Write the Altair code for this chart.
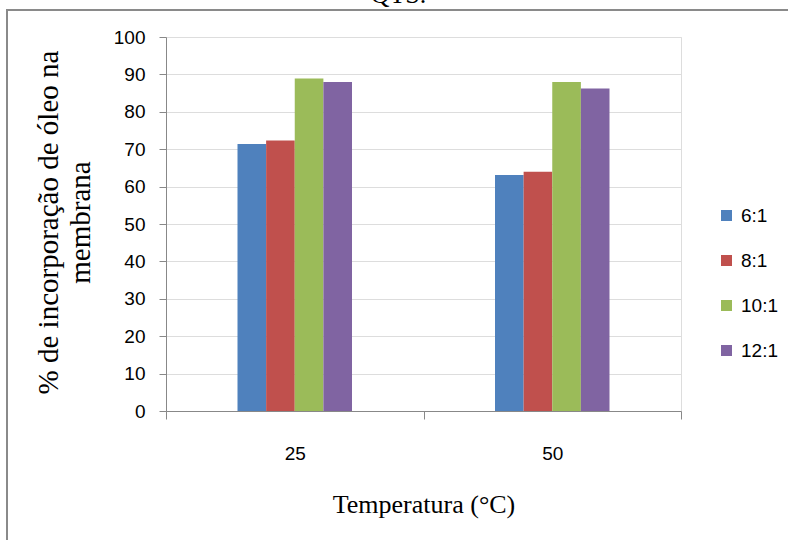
import altair as alt
import pandas as pd

temperaturas = ["25", "50"]
proporcoes = ["6:1", "8:1", "10:1", "12:1"]
v_6_1 = [71.4, 63.1]
v_8_1 = [72.3, 64.0]
v_10_1 = [88.9, 88.0]
v_12_1 = [88.0, 86.2]
cores = ["#4F81BD", "#C0504D", "#9BBB59", "#8064A2"]
y_ticks = [0, 10, 20, 30, 40, 50, 60, 70, 80, 90, 100]

rows = []
for prop, vals in zip(proporcoes, [v_6_1, v_8_1, v_10_1, v_12_1]):
    for t, v in zip(temperaturas, vals):
        rows.append({"Temperatura": t, "Proporcao": prop, "Valor": v})
df = pd.DataFrame(rows)

W, H = 515, 374
PL, PT = 166, 37
TOTAL_W, TOTAL_H = 790, 540
one = pd.DataFrame({"a": [0]})

frame_left = alt.Chart(one).mark_rule(color="#8a8a8a", strokeWidth=2).encode(
    x=alt.value(7 - PL), y=alt.value(9 - PT), y2=alt.value(TOTAL_H - PT),
)
frame_top = alt.Chart(one).mark_rule(color="#8a8a8a", strokeWidth=2).encode(
    x=alt.value(6 - PL), x2=alt.value(TOTAL_W - PL - 2), y=alt.value(10 - PT),
)

bars = alt.Chart(df).mark_bar().encode(
    x=alt.X(
        "Temperatura:N", sort=temperaturas,
        scale=alt.Scale(paddingInner=0, paddingOuter=0),
        axis=alt.Axis(
            title="Temperatura (°C)", labelAngle=0, tickBand="extent",
            tickSize=8, labelPadding=25, labelFont="Liberation Sans",
            labelFontSize=19, titleFont="Liberation Serif", titleFontSize=26,
            titleFontWeight="normal", titleBaseline="alphabetic",
            titleY=101, grid=False,
        ),
    ),
    xOffset=alt.XOffset(
        "Proporcao:N", sort=proporcoes,
        scale=alt.Scale(paddingInner=0, paddingOuter=0, range=[71.5, 186]),
    ),
    y=alt.Y(
        "Valor:Q",
        scale=alt.Scale(domain=[0, 100], nice=False),
        axis=alt.Axis(
            values=y_ticks,
            title=["% de incorporação de óleo na", "membrana"],
            titleFont="Liberation Serif", titleFontSize=29, titleFontWeight="normal",
            titleAngle=270, titleBaseline="alphabetic", titleAlign="center",
            titleLineHeight=32, titleX=57 - PL, titleY=222 - PT,
            tickSize=7, labelPadding=14, labelFont="Liberation Sans",
            labelFontSize=19, grid=True,
        ),
    ),
    color=alt.Color(
        "Proporcao:N", sort=proporcoes,
        scale=alt.Scale(domain=proporcoes, range=cores),
        legend=alt.Legend(
            title=None, orient="none", legendX=717 - PL, legendY=206 - PT,
            symbolType="square", symbolSize=121, symbolStrokeWidth=0,
            labelFont="Liberation Sans", labelFontSize=19, labelOffset=5,
            rowPadding=25, labelColor="#000000",
        ),
    ),
)

chart = alt.layer(frame_left, frame_top, bars).properties(
    width=W, height=H,
    padding={"left": PL, "top": PT, "right": TOTAL_W - PL - W, "bottom": TOTAL_H - PT - H},
    autosize=alt.AutoSizeParams(type="none"),
    title=alt.TitleParams(
        "QTS.", font="Liberation Serif", fontSize=26, fontWeight="normal",
        anchor="middle", dx=-25, offset=0, color="#000000",
    ),
).configure_axis(
    domainColor="#868686", tickColor="#868686", gridColor="#a8a8a8",
    gridWidth=1.3, labelColor="#000000", titleColor="#000000",
    domainWidth=1.3, tickWidth=1.3,
).configure_view(stroke=None).configure(background="#ffffff")

chart.save("out.html", embed_options={"renderer": "svg", "actions": False})
